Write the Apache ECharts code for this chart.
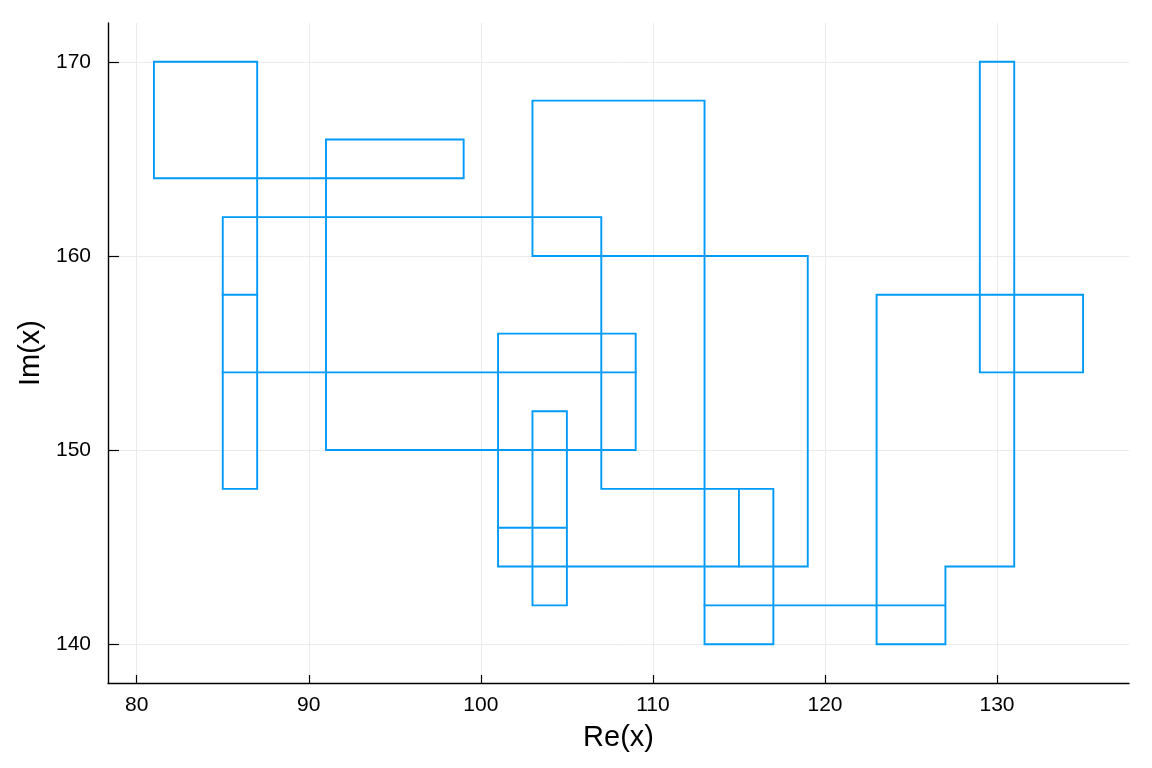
<!DOCTYPE html>
<html>
<head>
<meta charset="utf-8">
<script src="https://cdn.jsdelivr.net/npm/echarts@6/dist/echarts.min.js"></script>
<style>
  html, body { margin: 0; padding: 0; background: #ffffff; }
  #chart { width: 1152px; height: 768px; }
</style>
</head>
<body>
<div id="chart"></div>
<script>
// Path of complex values x: real parts and imaginary parts (null = break between strokes)
const re = [87, 81, 81, 99, 99, 91, 91, 109, 109, 101, 101, 119, 119, 103, 103, 113, 113, 117, 117, 107, 107, 85, 85, 87, 87, null,
            85, 87, null,
            85, 109, null,
            103, 105, 105, 103, 103, null,
            101, 105, null,
            115, 115, null,
            113, 127, 127, 123, 123, 135, 135, 129, 129, 131, 131, 127, 127];
const im = [170, 170, 164, 164, 166, 166, 150, 150, 156, 156, 144, 144, 160, 160, 168, 168, 140, 140, 148, 148, 162, 162, 148, 148, 170, null,
            158, 158, null,
            154, 154, null,
            152, 152, 142, 142, 152, null,
            146, 146, null,
            144, 148, null,
            142, 142, 140, 140, 158, 158, 154, 154, 170, 170, 144, 144, 142];
const xTicks = [80, 90, 100, 110, 120, 130];
const yTicks = [140, 150, 160, 170];
const xRange = [78.33, 137.67];
const yRange = [138.0, 172.0];

// split into strokes
const strokes = [];
let cur = [];
for (let i = 0; i < re.length; i++) {
  if (re[i] === null) { if (cur.length) strokes.push(cur); cur = []; }
  else cur.push([re[i], im[i]]);
}
if (cur.length) strokes.push(cur);

const lineColor = '#009af9';
const series = strokes.map(s => ({
  type: 'line',
  data: s,
  showSymbol: false,
  symbol: 'none',
  silent: true,
  animation: false,
  lineStyle: { color: lineColor, width: 1.9, join: 'miter', cap: 'square' }
}));

const font = 'Liberation Sans, Arial, Helvetica, sans-serif';
const chart = echarts.init(document.getElementById('chart'), null, { renderer: 'canvas' });
chart.setOption({
  backgroundColor: '#ffffff',
  animation: false,
  grid: { left: 108, right: 23, top: 23, bottom: 85, containLabel: false },
  xAxis: {
    type: 'value',
    min: xRange[0], max: xRange[1],
    name: 'Re(x)',
    nameLocation: 'middle',
    nameGap: 40,
    nameTextStyle: { fontFamily: font, fontSize: 29, color: '#000' },
    axisLine: { show: true, onZero: false, lineStyle: { color: '#000', width: 1.4 } },
    axisTick: { show: true, inside: true, length: 8, customValues: xTicks, lineStyle: { color: '#000', width: 1.2 } },
    axisLabel: { customValues: xTicks, fontFamily: font, fontSize: 21, color: '#000', margin: 12 },
    splitLine: { show: true, lineStyle: { color: '#ebebeb', width: 1 } }
  },
  yAxis: {
    type: 'value',
    min: yRange[0], max: yRange[1],
    name: 'Im(x)',
    nameLocation: 'middle',
    nameGap: 62,
    nameRotate: 90,
    nameTextStyle: { fontFamily: font, fontSize: 29, color: '#000' },
    axisLine: { show: true, onZero: false, lineStyle: { color: '#000', width: 1.4 } },
    axisTick: { show: true, inside: true, length: 11, customValues: yTicks, lineStyle: { color: '#000', width: 1.2 } },
    axisLabel: { customValues: yTicks, fontFamily: font, fontSize: 21, color: '#000', margin: 17 },
    splitLine: { show: true, lineStyle: { color: '#ebebeb', width: 1 } }
  },
  series: series
});
</script>
</body>
</html>
